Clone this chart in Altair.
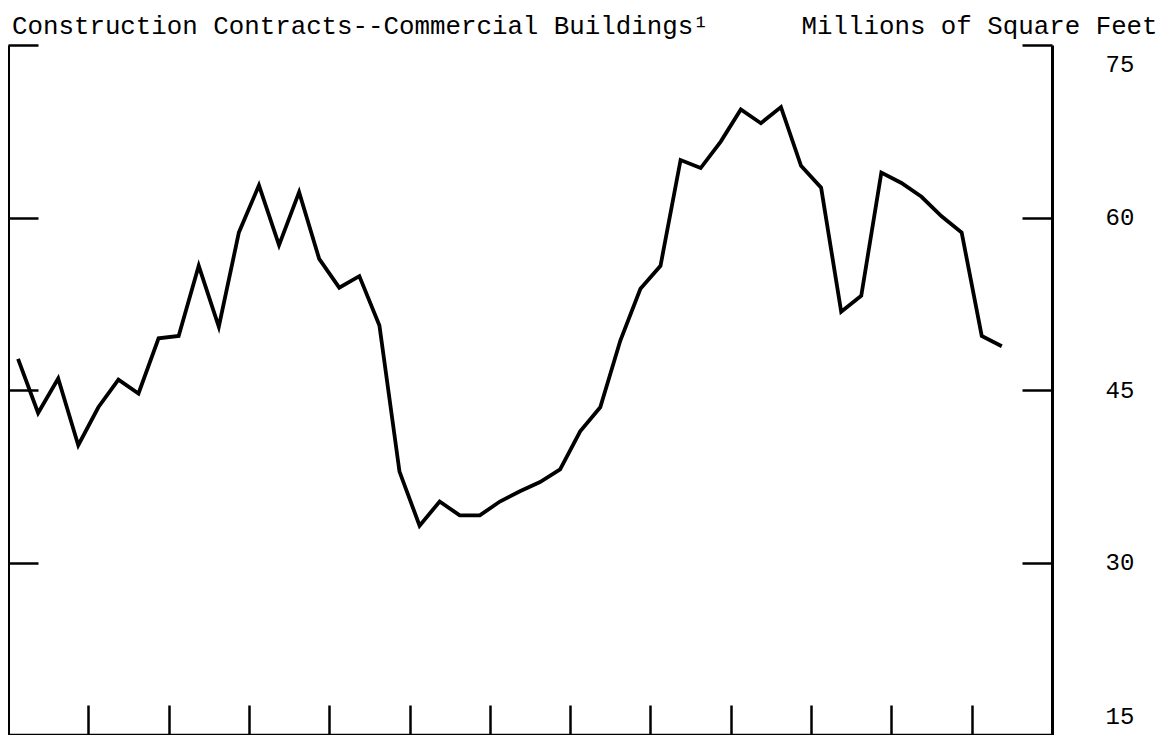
import altair as alt
import pandas as pd

# Quarterly values, millions of square feet
values = [
    47.7, 43.0, 46.0, 40.2, 43.5, 45.9, 44.7, 49.5, 49.7, 55.8,
    50.5, 58.7, 62.8, 57.6, 62.2, 56.4, 53.9, 54.9, 50.6, 37.9,
    33.2, 35.3, 34.1, 34.1, 35.3, 36.2, 37.0, 38.1, 41.4, 43.5,
    49.3, 53.8, 55.8, 65.0, 64.3, 66.6, 69.4, 68.2, 69.6, 64.5,
    62.6, 51.8, 53.2, 63.9, 63.0, 61.8, 60.1, 58.7, 49.7, 48.8,
]
quarters = list(range(1, len(values) + 1))
year_ticks = list(range(1, 13))
y_tick_values = [30, 45, 60, 75]
y_label_values = [15, 30, 45, 60, 75]

TITLE_LEFT = "Construction Contracts--Commercial Buildings\u00b9"
UNITS = "Millions of Square Feet"
TITLE = TITLE_LEFT + "\u00a0" * 6 + UNITS
FONT = "Liberation Mono"
W, H = 1044, 690

df = pd.DataFrame({"q": quarters, "v": values})
base = alt.Chart(df).transform_calculate(t="(datum.q - 0.5) / 4")

xscale = alt.Scale(domain=[0, 13], nice=False, zero=False)
yscale = alt.Scale(domain=[15, 75], nice=False, zero=False)

# year tick marks rising from the bottom edge (grid dashes of a top axis)
x_axis_ticks = alt.Axis(
    orient="top", values=year_ticks, labels=False, ticks=False, domain=False,
    grid=True, gridColor="black", gridWidth=2.5, gridOpacity=1,
    gridDash=[30, 3000], title=None,
)
# bottom base line
x_axis_base = alt.Axis(
    orient="bottom", values=year_ticks, labels=False, ticks=False, grid=False,
    domain=True, domainColor="black", domainWidth=3.5, domainOpacity=1,
    title=None,
)

line = base.mark_line(color="black", strokeWidth=3.8).encode(
    x=alt.X("t:Q", scale=xscale, axis=x_axis_ticks),
    y=alt.Y(
        "v:Q",
        scale=yscale,
        axis=alt.Axis(
            orient="left", values=y_tick_values, labels=False, ticks=False,
            domain=True, domainColor="black", domainWidth=3,
            grid=True, gridColor="black", gridWidth=2.5, gridOpacity=1,
            gridDash=[30, 3000], title=None,
        ),
    ),
)

right = base.mark_line(opacity=0).encode(
    x=alt.X("t:Q", scale=xscale, axis=x_axis_base),
    y=alt.Y(
        "v:Q",
        scale=yscale,
        axis=alt.Axis(
            orient="right", values=y_label_values, ticks=False,
            domain=True, domainColor="black", domainWidth=3,
            grid=True, gridColor="black", gridWidth=2.5, gridOpacity=1,
            gridDash=[30, 3000],
            labels=True, labelFont=FONT, labelFontSize=24, labelColor="black",
            labelPadding=53, labelAlign="left", labelFlush=True, labelFlushOffset=-7,
            title=None,
        ),
    ),
)

chart = (
    alt.layer(line, right)
    .resolve_scale(y="independent")
    .resolve_axis(x="independent")
    .properties(
        width=W,
        height=H,
        padding={"left": 0, "top": 5, "right": 5, "bottom": 0},
        title=alt.TitleParams(
            text=TITLE, anchor="start", frame="group", font=FONT, fontSize=25.8,
            fontWeight="normal", color="black", dx=4, offset=-15,
            baseline="alphabetic",
        ),
    )
    .configure_view(stroke=None)
)

chart.save("out.html", embed_options={"renderer": "svg", "actions": False})
